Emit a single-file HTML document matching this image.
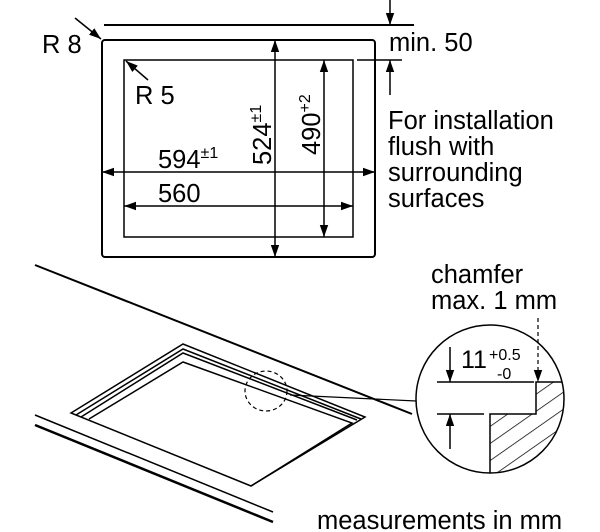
<!DOCTYPE html>
<html><head><style>
html,body{margin:0;padding:0;background:#fff;}
svg{display:block;}
text{font-family:"Liberation Sans",Arial,sans-serif;fill:#000;}
</style></head><body>
<svg width="600" height="532" viewBox="0 0 600 532" xmlns="http://www.w3.org/2000/svg">
<defs>
<marker id="a" viewBox="0 0 10 10" refX="10" refY="5" markerWidth="12" markerHeight="12" markerUnits="userSpaceOnUse" orient="auto-start-reverse">
<path d="M0,1.5 L10,5 L0,8.5 Z" fill="#000"/>
</marker>
<clipPath id="c"><circle cx="490" cy="399" r="74"/></clipPath>
<pattern id="h" width="14" height="14" patternUnits="userSpaceOnUse" patternTransform="rotate(-35)">
<line x1="0" y1="0" x2="14" y2="0" stroke="#000" stroke-width="1.5"/>
</pattern>
</defs>
<g stroke="#000" fill="none" stroke-width="2">
<line x1="104" y1="25" x2="414" y2="25"/>
<line x1="357" y1="60" x2="402" y2="60" stroke-width="1.5"/>
<line x1="390" y1="0" x2="390" y2="25" marker-end="url(#a)" stroke-width="1.5"/>
<line x1="390" y1="95" x2="390" y2="60" marker-end="url(#a)" stroke-width="1.5"/>
<rect x="102" y="40" width="273" height="217" rx="3"/>
<rect x="124" y="60" width="229" height="177" stroke-width="1.5"/>
<line x1="275" y1="40" x2="275" y2="257" stroke-width="1.5" marker-start="url(#a)" marker-end="url(#a)"/>
<line x1="324" y1="60" x2="324" y2="237" stroke-width="1.5" marker-start="url(#a)" marker-end="url(#a)"/>
<line x1="102" y1="172" x2="375" y2="172" stroke-width="1.5" marker-start="url(#a)" marker-end="url(#a)"/>
<line x1="124" y1="206" x2="353" y2="206" stroke-width="1.5" marker-start="url(#a)" marker-end="url(#a)"/>
<line x1="75" y1="18" x2="101" y2="39" stroke-width="1.5" marker-end="url(#a)"/>
<line x1="148" y1="80" x2="126" y2="61" stroke-width="1.5" marker-end="url(#a)"/>
<line x1="35" y1="265" x2="412" y2="414"/>
<line x1="35" y1="415" x2="273" y2="512" stroke-width="1.5"/>
<line x1="35" y1="425" x2="273" y2="522" stroke-width="2.5"/>
<polygon points="71,413 183,344 365,417 251,486" stroke-width="1.5"/>
<polyline points="76,415 183,349 361,419" stroke-width="1.5"/>
<polyline points="81,417 183,353 357,420" stroke-width="1.5"/>
<polyline points="89,419 183,362 352,423 251,486" stroke-width="1.5"/>
<ellipse cx="266" cy="391" rx="21" ry="20" stroke-width="1.2" stroke-dasharray="4,3"/>
<polyline points="290,395 416,401" stroke-width="1.2"/>
<circle cx="490" cy="399" r="74" stroke-width="1.5"/>
<g clip-path="url(#c)">
<path d="M536,382 L570,382 L570,480 L490,480 L490,414 L536,414 Z" fill="url(#h)" stroke="none"/>
<path d="M570,382 L536,382 L536,414 L490,414 L490,480" stroke-width="1.5"/>
</g>
<line x1="437" y1="382" x2="534" y2="382" stroke-width="1.5"/>
<line x1="437" y1="414" x2="484" y2="414" stroke-width="1.5"/>
<line x1="450" y1="347" x2="450" y2="382" stroke-width="1.5" marker-end="url(#a)"/>
<line x1="450" y1="449" x2="450" y2="414" stroke-width="1.5" marker-end="url(#a)"/>
<line x1="538" y1="318" x2="538" y2="382" stroke-width="1.2" stroke-dasharray="4,3" marker-end="url(#a)"/>
</g>
<g font-size="25.5">
<text x="42" y="53">R 8</text>
<text x="135" y="104">R 5</text>
<text x="389" y="51">min. 50</text>
<text x="388" y="129">For installation</text>
<text x="388" y="155">flush with</text>
<text x="388" y="181">surrounding</text>
<text x="388" y="207">surfaces</text>
<text x="158" y="168">594<tspan font-size="16" dy="-10">±1</tspan></text>
<text x="158" y="202">560</text>
<text transform="translate(271,165) rotate(-90)">524<tspan font-size="16" dy="-10">±1</tspan></text>
<text transform="translate(320,155) rotate(-90)">490<tspan font-size="16" dy="-10">+2</tspan></text>
<text x="431" y="283">chamfer</text>
<text x="431" y="309">max. 1 mm</text>
<text x="461" y="368" font-size="25">11</text>
<text x="489" y="360" font-size="16">+0.5</text>
<text x="497" y="379" font-size="16">-0</text>
<text x="317" y="529">measurements in mm</text>
</g>
</svg>
</body></html>
